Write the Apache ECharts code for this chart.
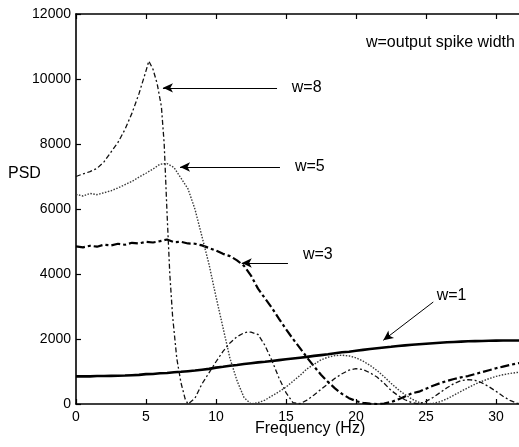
<!DOCTYPE html>
<html>
<head>
<meta charset="utf-8">
<script src="https://cdn.jsdelivr.net/npm/echarts@6/dist/echarts.min.js"></script>
<style>
html,body{margin:0;padding:0;background:#fff;}
#chart{width:519px;height:447px;}
</style>
</head>
<body>
<div id="chart"></div>
<script>
// Frequency grid (Hz) shared by w=1, w=3, w=5
const freq = [0,0.5,1,1.5,2,2.5,3,3.5,4,4.5,5,5.5,6,6.5,7,7.5,8,8.5,9,9.5,10,10.5,11,11.5,12,12.5,13,13.5,14,14.5,15,15.5,16,16.5,17,17.5,18,18.5,19,19.5,20,20.5,21,21.5,22,22.5,23,23.5,24,24.5,25,25.5,26,26.5,27,27.5,28,28.5,29,29.5,30,30.5,31,31.5,32];

const psdW1 = [850,855,850,860,860,865,870,875,885,895,920,925,945,955,975,990,1010,1030,1055,1080,1120,1145,1175,1200,1230,1255,1280,1300,1325,1350,1375,1400,1425,1450,1480,1505,1530,1560,1590,1610,1640,1665,1690,1715,1740,1760,1785,1805,1825,1840,1855,1870,1885,1900,1910,1920,1930,1935,1940,1945,1950,1952,1955,1955,1958];

const psdW3 = [4850,4820,4870,4840,4900,4880,4930,4900,4960,4940,4990,4970,5010,5060,4980,4990,4940,4930,4880,4800,4720,4620,4550,4420,4250,3950,3550,3250,2950,2620,2300,2000,1720,1430,1160,900,680,480,310,180,90,35,10,0,15,60,140,230,330,380,470,560,640,710,770,820,860,920,980,1040,1100,1150,1200,1250,1280];

const psdW5 = [6450,6400,6480,6440,6500,6560,6650,6750,6850,6980,7100,7230,7380,7400,7280,6950,6620,5990,5150,4300,3300,2350,1400,720,200,0,40,120,250,380,520,700,880,1080,1220,1360,1440,1490,1500,1480,1420,1320,1190,1030,840,640,450,290,150,50,5,20,70,160,270,390,500,610,700,780,850,900,940,970,990];

// w=8 has its own (denser near the peak) frequency grid
const freqW8 = [0,0.5,1,1.5,2,2.5,3,3.5,4,4.5,5,5.2,5.5,5.8,6.1,6.3,6.5,6.7,6.9,7.2,7.5,7.8,8,8.5,9,9.5,10,10.5,11,11.5,12,12.3,12.5,13,13.5,14,14.5,15,15.5,16,16.5,17,17.5,18,18.5,19,19.5,20,20.5,21,21.5,22,22.5,23,23.5,24,24.5,25,25.5,26,26.5,27,27.5,28,28.5,29,29.5,30,30.5,31,31.5,32];
const psdW8 = [7000,7080,7150,7250,7450,7750,8050,8450,8950,9550,10250,10550,10300,9850,9150,8000,5900,4000,2700,1400,650,150,0,180,620,960,1300,1620,1880,2070,2190,2215,2210,2140,1800,1330,800,350,40,10,120,280,450,620,790,930,1040,1090,1060,960,830,640,420,260,130,40,0,80,200,350,500,630,720,750,730,650,530,390,240,110,20,0];

// Axis ticks
const xTicks = [0,5,10,15,20,25,30];
const yTicks = [0,2000,4000,6000,8000,10000,12000];

// Annotations: label text, label anchor (data coords), arrow tail, arrow head (data coords)
const annLabels = ['w=8','w=5','w=3','w=1'];
const annTextPos = [[15.41,9713],[15.64,7283],[16.21,4575],[25.76,3314]];
const annTail = [[14.36,9729],[14.57,7292],[15.14,4338],[25.52,3138]];
const annHead = [[6.21,9729],[7.43,7292],[11.84,4338],[21.95,1960]];
const noteText = 'w=output spike width';
const notePos = [20.71,11098];

const FONT = '"Liberation Sans", Arial, Helvetica, sans-serif';
const chart = echarts.init(document.getElementById('chart'), null, {renderer:'canvas'});

const xMax = 443/14;
const pair = (xs, ys) => xs.map((x,i)=>[x, ys[i]]);

const axisLine = {show:true, onZero:false, lineStyle:{color:'#000', width:1.6}};
const tickStyle = {color:'#000', width:1.2};

const option = {
  animation:false,
  backgroundColor:'#fff',
  grid:{left:76, right:0, top:14, bottom:43, containLabel:false},
  xAxis:[
    {
      type:'value', min:0, max:xMax, interval:5, position:'bottom',
      axisLine:axisLine, splitLine:{show:false},
      axisLabel:{color:'#000', fontSize:14, fontFamily:FONT, margin:6,
        customValues: xTicks, formatter: v => String(v)},
      axisTick:{show:true, inside:true, length:5, customValues:xTicks, lineStyle:tickStyle}
    },
    {
      type:'value', min:0, max:xMax, interval:5, position:'top',
      axisLine:axisLine, splitLine:{show:false},
      axisLabel:{show:false},
      axisTick:{show:true, inside:true, length:5, customValues:xTicks, lineStyle:tickStyle}
    }
  ],
  yAxis:[
    {
      type:'value', min:0, max:12000, interval:2000,
      axisLine:axisLine, splitLine:{show:false},
      axisTick:{show:true, inside:true, length:5, lineStyle:tickStyle},
      axisLabel:{color:'#000', fontSize:14, fontFamily:FONT, margin:5,
        customValues: yTicks, formatter: v => String(v)}
    }
  ],
  series:[
    {name:'w=1', type:'line', data:pair(freq, psdW1), showSymbol:false, silent:true,
      lineStyle:{color:'#000', width:2.6, type:'solid'}},
    {name:'w=3', type:'line', data:pair(freq, psdW3), showSymbol:false, silent:true,
      lineStyle:{color:'#000', width:2.2, type:[9,3,3,3]}},
    {name:'w=5', type:'line', data:pair(freq, psdW5), showSymbol:false, silent:true,
      lineStyle:{color:'#3a3a3a', width:1.4, type:[1.5,1.5]}},
    {name:'w=8', type:'line', data:pair(freqW8, psdW8), showSymbol:false, silent:true,
      lineStyle:{color:'#111', width:1.3, type:[5,2.5,2,2.5]}},
    {name:'arrows', type:'line', data:[], silent:true,
      markLine:{
        silent:true, animation:false,
        symbol:['none','arrow'], symbolSize:[7,10],
        label:{show:false},
        lineStyle:{color:'#000', width:1, type:'solid'},
        emphasis:{disabled:true},
        data: annTail.map((t,i)=>[{coord:t},{coord:annHead[i]}])
      }}
  ]
};
chart.setOption(option);

function drawTexts(){
  const g = [];
  annLabels.forEach((t,i)=>{
    const p = chart.convertToPixel({xAxisIndex:0, yAxisIndex:0}, annTextPos[i]);
    g.push({type:'text', left:p[0], top:p[1]-9, style:{text:t, fontSize:16, fontFamily:FONT, fill:'#000'}});
  });
  const np = chart.convertToPixel({xAxisIndex:0, yAxisIndex:0}, notePos);
  g.push({type:'text', left:np[0], top:np[1]-9, style:{text:noteText, fontSize:16, fontFamily:FONT, fill:'#000'}});
  g.push({type:'text', left:8, top:166, style:{text:'PSD', fontSize:16, fontFamily:FONT, fill:'#000'}});
  g.push({type:'text', left:255, top:421, style:{text:'Frequency (Hz)', fontSize:16, fontFamily:FONT, fill:'#000'}});
  chart.setOption({graphic:g});
}
drawTexts();
</script>
</body>
</html>
